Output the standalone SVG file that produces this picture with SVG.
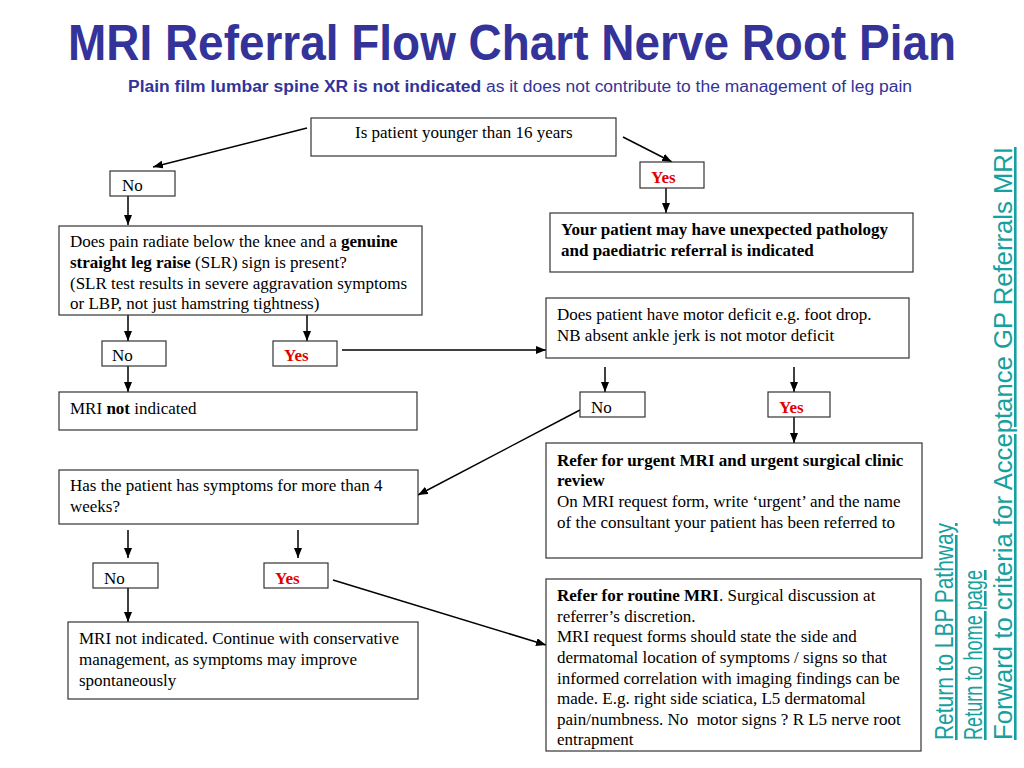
<svg xmlns="http://www.w3.org/2000/svg" width="1024" height="768" viewBox="0 0 1024 768">
<defs>
<marker id="ah" markerWidth="10" markerHeight="8" refX="10" refY="4" orient="auto" markerUnits="userSpaceOnUse">
<path d="M0,0 L10,4 L0,8 Z" fill="#000"/>
</marker>
<style>
.box{fill:#fff;stroke:#333;stroke-width:1.2}
.t{font-family:"Liberation Serif","Times New Roman",serif;font-size:17px;fill:#000}
.b{font-weight:bold}
.yes{font-family:"Liberation Serif","Times New Roman",serif;font-size:17px;font-weight:bold;fill:#e00000}
.con{stroke:#000;stroke-width:1.5;fill:none;marker-end:url(#ah)}
.link{font-family:"Liberation Sans",Arial,sans-serif;font-size:26px;fill:#17a0a0;text-decoration:underline}
</style>
</defs>
<rect width="1024" height="768" fill="#fff"/>
<g id="title">
<text x="512" y="60" text-anchor="middle" font-family="'Liberation Sans',Arial,sans-serif" font-size="50" font-weight="bold" fill="#333399" textLength="888" lengthAdjust="spacingAndGlyphs">MRI Referral Flow Chart Nerve Root Pian</text>
<text x="128" y="92" font-family="'Liberation Sans',Arial,sans-serif" font-size="16" fill="#333399" textLength="784" lengthAdjust="spacingAndGlyphs"><tspan font-weight="bold">Plain film lumbar spine XR is not indicated</tspan> as it does not contribute to the management of leg pain</text>
</g>
<g id="connectors">
<line class="con" x1="307" y1="128" x2="153" y2="167"/>
<line class="con" x1="623" y1="137" x2="672" y2="162"/>
<line class="con" x1="128" y1="196" x2="128" y2="225"/>
<line class="con" x1="666" y1="188" x2="666" y2="213"/>
<line class="con" x1="128" y1="315" x2="128" y2="341"/>
<line class="con" x1="307" y1="315" x2="307" y2="341"/>
<line class="con" x1="342" y1="350" x2="546" y2="350"/>
<line class="con" x1="128" y1="366" x2="128" y2="392"/>
<line class="con" x1="605" y1="367" x2="605" y2="392"/>
<line class="con" x1="794" y1="367" x2="794" y2="392"/>
<line class="con" x1="794" y1="417" x2="794" y2="443"/>
<line class="con" x1="580" y1="410" x2="418" y2="495"/>
<line class="con" x1="128" y1="530" x2="128" y2="558"/>
<line class="con" x1="298" y1="530" x2="298" y2="558"/>
<line class="con" x1="128" y1="588" x2="128" y2="622"/>
<line class="con" x1="333" y1="580" x2="546" y2="645"/>
</g>
<g id="n-age"><rect class="box" x="311" y="118" width="305" height="38"/><text class="t" x="355" y="138">Is patient younger than 16 years</text></g>
<g id="n-no1"><rect class="box" x="110" y="171" width="65" height="25"/><text class="t" x="122" y="191">No</text></g>
<g id="n-yes1"><rect class="box" x="640" y="162" width="64" height="26"/><text class="yes" x="651" y="183">Yes</text></g>
<g id="n-paed"><rect class="box" x="550" y="213" width="363" height="59"/>
<text class="t b" x="561" y="235">Your patient may have unexpected pathology</text>
<text class="t b" x="561" y="256">and paediatric referral is indicated</text></g>
<g id="n-slr"><rect class="box" x="59" y="226" width="363" height="89"/>
<text class="t" x="70" y="247">Does pain radiate below the knee and a <tspan font-weight="bold">genuine</tspan></text>
<text class="t" x="70" y="268"><tspan font-weight="bold">straight leg raise</tspan> (SLR) sign is present?</text>
<text class="t" x="70" y="289">(SLR test results in severe aggravation symptoms</text>
<text class="t" x="70" y="309">or LBP, not just hamstring tightness)</text></g>
<g id="n-no2"><rect class="box" x="102" y="341" width="64" height="25"/><text class="t" x="112" y="361">No</text></g>
<g id="n-yes2"><rect class="box" x="273" y="341" width="64" height="25"/><text class="yes" x="284" y="361">Yes</text></g>
<g id="n-motor"><rect class="box" x="546" y="298" width="363" height="60"/>
<text class="t" x="557" y="320">Does patient have motor deficit e.g. foot drop.</text>
<text class="t" x="557" y="341">NB absent ankle jerk is not motor deficit</text></g>
<g id="n-notind"><rect class="box" x="59" y="392" width="358" height="38"/>
<text class="t" x="70" y="414">MRI <tspan font-weight="bold">not</tspan> indicated</text></g>
<g id="n-no3"><rect class="box" x="580" y="392" width="65" height="25"/><text class="t" x="591" y="413">No</text></g>
<g id="n-yes3"><rect class="box" x="768" y="392" width="62" height="25"/><text class="yes" x="779" y="413">Yes</text></g>
<g id="n-urgent"><rect class="box" x="546" y="443" width="376" height="115"/>
<text class="t b" x="557" y="466">Refer for urgent MRI and urgent surgical clinic</text>
<text class="t b" x="557" y="486">review</text>
<text class="t" x="557" y="507">On MRI request form, write ‘urgent’ and the name</text>
<text class="t" x="557" y="528">of the consultant your patient has been referred to</text></g>
<g id="n-weeks"><rect class="box" x="59" y="470" width="359" height="54"/>
<text class="t" x="70" y="491">Has the patient has symptoms for more than 4</text>
<text class="t" x="70" y="512">weeks?</text></g>
<g id="n-no4"><rect class="box" x="93" y="563" width="65" height="25"/><text class="t" x="104" y="584">No</text></g>
<g id="n-yes4"><rect class="box" x="264" y="563" width="64" height="25"/><text class="yes" x="275" y="584">Yes</text></g>
<g id="n-cons"><rect class="box" x="68" y="622" width="350" height="77"/>
<text class="t" x="79" y="644">MRI not indicated. Continue with conservative</text>
<text class="t" x="79" y="665">management, as symptoms may improve</text>
<text class="t" x="79" y="686">spontaneously</text></g>
<g id="n-routine"><rect class="box" x="546" y="579" width="375" height="172"/>
<text class="t" x="557" y="601"><tspan font-weight="bold">Refer for routine MRI</tspan>. Surgical discussion at</text>
<text class="t" x="557" y="622">referrer’s discretion.</text>
<text class="t" x="557" y="642">MRI request forms should state the side and</text>
<text class="t" x="557" y="663">dermatomal location of symptoms / signs so that</text>
<text class="t" x="557" y="684">informed correlation with imaging findings can be</text>
<text class="t" x="557" y="704">made. E.g. right side sciatica, L5 dermatomal</text>
<text class="t" x="557" y="725">pain/numbness. No&#160; motor signs ? R L5 nerve root</text>
<text class="t" x="557" y="745">entrapment</text></g>
<g id="links">
<text class="link" transform="translate(953,740) rotate(-90)" textLength="217" lengthAdjust="spacingAndGlyphs">Return to LBP Pathway</text>
<text class="link" transform="translate(982,740) rotate(-90)" textLength="170" lengthAdjust="spacingAndGlyphs">Return to home page</text>
<text class="link" transform="translate(1012,740) rotate(-90)" textLength="593" lengthAdjust="spacingAndGlyphs">Forward to criteria for Acceptance GP Referrals MRI</text>
</g>
</svg>
